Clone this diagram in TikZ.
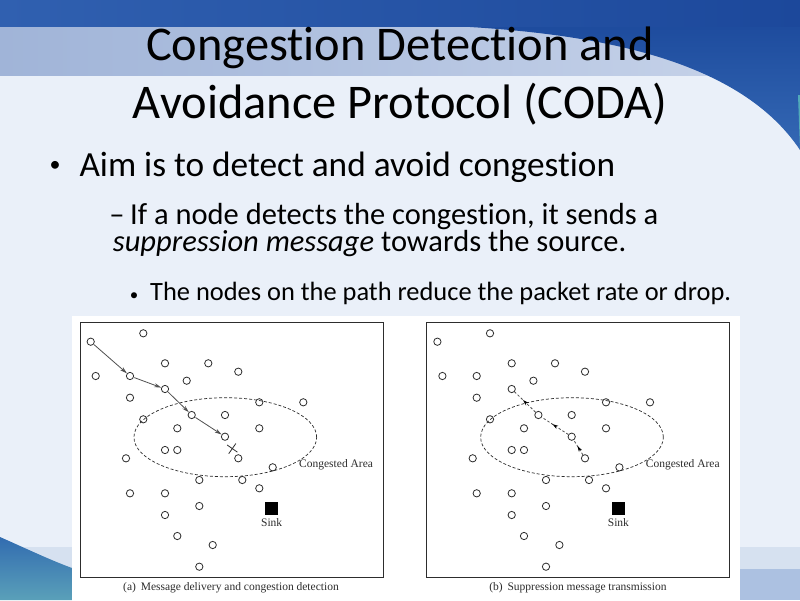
\documentclass[tikz,border=0pt]{standalone}
\usepackage{fontspec}
\setmainfont{Carlito}[Ligatures={NoCommon,NoRequired,NoContextual}]
\newfontfamily\paperfont{Liberation Serif}
\definecolor{slidebg}{RGB}{234,240,249}
\definecolor{topblue}{RGB}{28,72,155}
\definecolor{topleft}{RGB}{48,96,176}
\definecolor{bandblue}{RGB}{160,180,216}
\definecolor{bandlight}{RGB}{200,212,234}
\definecolor{swooshblue}{RGB}{52,104,180}
\definecolor{swooshdeep}{RGB}{30,76,158}
\definecolor{tealedge}{RGB}{80,170,185}
\definecolor{footlight}{RGB}{214,225,240}
\definecolor{footblue}{RGB}{172,193,225}
\definecolor{waveblue}{RGB}{50,108,176}
\definecolor{waveteal}{RGB}{90,160,185}
\definecolor{inkgrey}{RGB}{45,45,45}
\definecolor{pathgrey}{RGB}{80,80,80}
\usetikzlibrary{shapes.geometric,shapes.misc,arrows.meta,positioning,calc,decorations.markings}

\newcommand{\sensorspots}{143.3/333.3, 90.7/341.7, 165/363.3, 208.3/363.3, 238.3/371.7, 95.7/376, 130/376, 186.7/380.7, 165/389, 130/397.7, 259.3/402.3, 303.3/402.3, 191.7/415, 225/415, 143.3/419.3, 177.3/428.3, 259.3/428.3, 225/436.7, 165/450, 177.3/450, 126/458.3, 238.3/458.3, 272.7/467.3, 199.3/480, 242.3/480, 259.3/488.3, 130/493.3, 165/493.3, 199.3/506, 165/515, 177.3/536, 212.7/545, 199.3/566.7}

\tikzset{
  slidetext/.style={inner sep=0pt, text=black},
  sensor/.style={circle, draw=inkgrey, line width=0.8pt, minimum size=7.3pt, inner sep=0pt},
  sinkbox/.style={fill=black, minimum size=12.5pt, inner sep=0pt},
  area/.style={ellipse, draw=inkgrey, line width=0.7pt, dash pattern=on 3pt off 2pt, minimum width=182.7pt, minimum height=79pt, inner sep=0pt},
  panelframe/.style={draw=inkgrey, line width=1pt, minimum width=303pt, minimum height=255pt, inner sep=0pt},
  figtext/.style={font=\paperfont\fontsize{11.5}{13}\selectfont, text=inkgrey, inner sep=0pt},
  hop/.style={-{Stealth[length=7pt,width=4pt]}, pathgrey, line width=0.8pt, shorten <=0.5pt},
  backhop/.style={pathgrey, line width=0.8pt, dash pattern=on 2.5pt off 2pt, postaction={decorate},
    decoration={markings, mark=at position 0.6 with {\arrow[black]{Stealth[length=6pt,width=3.6pt]}}}},
}

\begin{document}
\begin{tikzpicture}[x=1pt,y=-1pt]
\useasboundingbox (0,0) rectangle (800,600);
\fill[slidebg] (0,0) rectangle (800,600);
\shade[left color=topleft, right color=topblue] (0,0) rectangle (800,27);
\shade[left color=bandblue, right color=bandlight] (0,27) rectangle (800,75);
\shade[top color=swooshdeep, bottom color=swooshblue] (470,27) .. controls (600,35) and (740,60) .. (800,150) -- (800,27) -- cycle;
\fill[tealedge] (798,95) -- (800,95) -- (800,150) -- cycle;
\fill[footlight] (0,547) rectangle (800,600);
\fill[footblue] (0,569) rectangle (800,600);
\shade[top color=waveblue, bottom color=waveteal] (0,537) .. controls (25,548) and (50,560) .. (72,568) -- (72,600) -- (0,600) -- cycle;

\node[slidetext, anchor=base, font=\fontsize{48.4}{58}\selectfont] (title1) at (400,60) {Congestion Detection and};
\node[slidetext, anchor=base, font=\fontsize{48.4}{58}\selectfont] (title2) at (400,118) {Avoidance Protocol (CODA)};

\node[slidetext, anchor=base, font=\fontsize{22}{26}\selectfont] (dot1) at (55,171.5) {•};
\node[slidetext, anchor=base west, font=\fontsize{35.3}{40}\selectfont] (aim) at (79.3,176) {Aim is to detect and avoid congestion};
\node[slidetext, anchor=base, font=\fontsize{30.5}{34}\selectfont] (dash2) at (117,224) {–};
\node[slidetext, anchor=base west, font=\fontsize{30.5}{34}\selectfont] (detect) at (130,224) {If a node detects the congestion, it sends a};
\node[slidetext, anchor=base west, font=\fontsize{30.5}{34}\selectfont] (suppress) at (112.7,251.7) {\textit{suppression message} towards the source.};
\node[slidetext, anchor=base, font=\fontsize{17}{20}\selectfont] (dot3) at (134,300) {•};
\node[slidetext, anchor=base west, font=\fontsize{26.4}{30}\selectfont] (reduce) at (150,300) {The nodes on the path reduce the packet rate or drop.};

\fill[white] (72,316) rectangle (740,600);

\foreach \p/\dx in {a/0,b/346.7}{
  \node[panelframe] (frame\p) at (231.5+\dx,449.5) {};
  \node[area] (zone\p) at (225.3+\dx,437.2) {};
  \foreach \x/\y [count=\i] in \sensorspots
    \node[sensor] (\p\i) at (\x+\dx,\y) {};
  \node[figtext, anchor=base west] (zonelabel\p) at (299+\dx,467) {Congested Area};
  \node[sinkbox] (sink\p) at (271.7+\dx,508.3) {};
  \node[figtext, below=4pt of sink\p] (sinklabel\p) {Sink};
}

\draw[hop] (a2) -- (a7);
\draw[hop] (a7) -- (a9);
\draw[hop] (a9) -- (a13);
\draw[hop] (a13) -- (a18);
\node[cross out, draw=inkgrey, line width=0.8pt, minimum size=8pt, inner sep=0pt, rotate=10] (dropa) at ($(a18)!0.55!(a22)$) {};

\draw[backhop] (b22) -- (b18);
\draw[backhop] (b18) -- (b13);
\draw[backhop] (b13) -- (b9);

\node[figtext, anchor=base] (captiona) at (231,590) {(a)\, Message delivery and congestion detection};
\node[figtext, anchor=base] (captionb) at (578,590) {(b)\, Suppression message transmission};
\end{tikzpicture}
\end{document}
